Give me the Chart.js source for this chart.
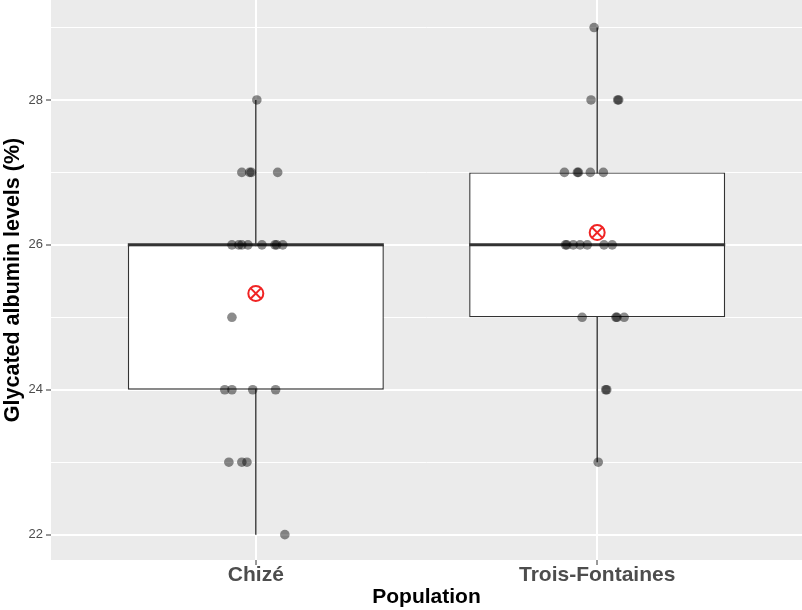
<!DOCTYPE html>
<html>
<head>
<meta charset="utf-8">
<script src="https://cdn.jsdelivr.net/npm/chart.js@4/dist/chart.umd.min.js"></script>
<style>
  body { margin: 0; background: #fff; }
  #wrap { width: 802px; height: 610px; }
</style>
</head>
<body>
<div id="wrap"><canvas id="boxChart" width="802" height="610"></canvas></div>
<script>
// categorías y resumen del boxplot
const populations = ["Chizé", "Trois-Fontaines"];
const whiskerLow = [22, 23];
const q1 = [24, 25];
const medians = [26, 26];
const q3 = [26, 27];
const whiskerHigh = [28, 29];
const means = [25.33, 26.17];

// puntos individuales (valor y desplazamiento del jitter)
const chizeY = [28, 27, 27, 27, 27, 26, 26, 26, 26, 26, 26, 26, 26, 25, 24, 24, 24, 24, 23, 23, 23, 22];
const chizeJitter = [0.003, -0.041, -0.018, -0.013, 0.064, -0.070, -0.050, -0.041, -0.023, 0.018, 0.056, 0.061, 0.079, -0.070, -0.091, -0.070, -0.009, 0.058, -0.079, -0.041, -0.026, 0.085];
const troisY = [29, 28, 28, 28, 27, 27, 27, 27, 27, 26, 26, 26, 26, 26, 26, 26, 25, 25, 25, 25, 24, 24, 23];
const troisJitter = [-0.009, -0.018, 0.060, 0.063, -0.096, -0.058, -0.055, -0.020, 0.018, -0.093, -0.089, -0.070, -0.050, -0.029, 0.020, 0.044, -0.044, 0.055, 0.058, 0.079, 0.025, 0.028, 0.003];

// ejes
const yTicks = [22, 23, 24, 25, 26, 27, 28, 29];
const yMin = 21.65, yMax = 29.38;
const xMin = 0.4, xMax = 2.6;

const FONT = "'Liberation Sans', Arial, sans-serif";

const boxData = populations.map((p, i) => ({ x: i + 1, y: [q1[i], q3[i]] }));
const pointData = []
  .concat(chizeY.map((v, k) => ({ x: 1 + chizeJitter[k], y: v })))
  .concat(troisY.map((v, k) => ({ x: 2 + troisJitter[k], y: v })));
const meanData = means.map((m, i) => ({ x: i + 1, y: m }));

// fondo del panel, bigotes y medianas
const boxExtras = {
  id: "boxExtras",
  beforeDraw(chart) {
    const a = chart.chartArea, ctx = chart.ctx;
    ctx.save();
    ctx.fillStyle = "#EBEBEB";
    ctx.fillRect(a.left, a.top, a.right - a.left, a.bottom - a.top);
    ctx.restore();
  },
  beforeDatasetDraw(chart, args) {
    if (args.index !== 0) return;
    const ctx = chart.ctx, y = chart.scales.y;
    const meta = chart.getDatasetMeta(0);
    ctx.save();
    ctx.strokeStyle = "#333333";
    ctx.lineWidth = 1.4;
    meta.data.forEach((bar, i) => {
      ctx.beginPath();
      ctx.moveTo(bar.x, y.getPixelForValue(whiskerLow[i]));
      ctx.lineTo(bar.x, y.getPixelForValue(whiskerHigh[i]));
      ctx.stroke();
    });
    ctx.restore();
  },
  afterDatasetDraw(chart, args) {
    if (args.index !== 0) return;
    const ctx = chart.ctx, y = chart.scales.y;
    const meta = chart.getDatasetMeta(0);
    ctx.save();
    ctx.strokeStyle = "#333333";
    ctx.lineWidth = 3;
    meta.data.forEach((bar, i) => {
      const py = y.getPixelForValue(medians[i]);
      ctx.beginPath();
      ctx.moveTo(bar.x - bar.width / 2, py);
      ctx.lineTo(bar.x + bar.width / 2, py);
      ctx.stroke();
    });
    ctx.restore();
  }
};

const ctx = document.getElementById("boxChart").getContext("2d");
new Chart(ctx, {
  data: {
    datasets: [
      {
        type: "bar",
        data: boxData,
        backgroundColor: "#FFFFFF",
        borderColor: "#333333",
        borderWidth: 1.4,
        borderSkipped: false,
        grouped: false,
        categoryPercentage: 1,
        barPercentage: 0.75,
        order: 3
      },
      {
        type: "scatter",
        data: pointData,
        backgroundColor: "rgba(0,0,0,0.45)",
        borderWidth: 0,
        pointRadius: 4.8,
        order: 2
      },
      {
        type: "scatter",
        data: meanData,
        pointStyle: "circle",
        backgroundColor: "rgba(0,0,0,0)",
        borderColor: "#F02424",
        borderWidth: 2,
        pointRadius: 7.5,
        order: 1
      },
      {
        type: "scatter",
        data: meanData,
        pointStyle: "crossRot",
        borderColor: "#F02424",
        borderWidth: 2,
        pointRadius: 7.5,
        order: 0
      }
    ]
  },
  options: {
    responsive: false,
    animation: false,
    layout: { padding: 0, autoPadding: false },
    plugins: { legend: { display: false }, tooltip: { enabled: false } },
    scales: {
      x: {
        type: "linear",
        min: xMin,
        max: xMax,
        offset: false,
        afterBuildTicks: s => { s.ticks = populations.map((p, i) => ({ value: i + 1 })); },
        afterFit: s => { s.height = 50; s.paddingLeft = 0; s.paddingRight = 0; },
        grid: { offset: false, color: "#FFFFFF", lineWidth: 2, tickColor: "#333333", tickLength: 5, tickWidth: 1 },
        border: { display: false },
        ticks: {
          callback: v => populations[Math.round(v) - 1] || "",
          color: "#4D4D4D",
          font: { family: FONT, size: 21, weight: "bold", lineHeight: 1 },
          padding: 0,
          maxRotation: 0,
          autoSkip: false
        },
        title: {
          display: true,
          text: "Population",
          color: "#000000",
          font: { family: FONT, size: 21, weight: "bold" },
          padding: 0
        }
      },
      y: {
        type: "linear",
        min: yMin,
        max: yMax,
        afterBuildTicks: s => { s.ticks = yTicks.map(v => ({ value: v })); },
        afterFit: s => { s.width = 51; s.paddingTop = 0; s.paddingBottom = 0; },
        grid: {
          color: "#FFFFFF",
          lineWidth: c => (c.tick && c.tick.value % 2 === 0 ? 2 : 1),
          tickColor: c => (c.tick && c.tick.value % 2 === 0 ? "#333333" : "rgba(0,0,0,0)"),
          tickLength: 5,
          tickWidth: 1
        },
        border: { display: false },
        ticks: {
          callback: v => (v % 2 === 0 ? String(v) : ""),
          color: "#4D4D4D",
          font: { family: FONT, size: 13 },
          padding: 3,
          autoSkip: false
        },
        title: {
          display: true,
          text: "Glycated albumin levels (%)",
          color: "#000000",
          font: { family: FONT, size: 21.5, weight: "bold" },
          padding: 0
        }
      }
    }
  },
  plugins: [boxExtras]
});
</script>
</body>
</html>
